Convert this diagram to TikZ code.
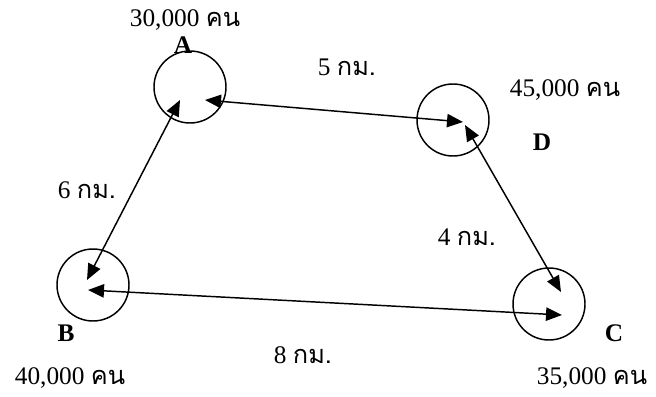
\documentclass[tikz,border=0pt]{standalone}
\usepackage{fontspec}
\setmainfont{Liberation Serif}
\newfontfamily\thaifont[Script=Thai]{Loma}
\usetikzlibrary{arrows.meta,calc}

\begin{document}
\begin{tikzpicture}[x=0.75pt,y=-0.75pt,
    city/.style={circle,draw,line width=1.1pt,minimum size=54pt,inner sep=0pt},
    road/.style={{Triangle[length=12pt,width=10pt]}-{Triangle[length=12pt,width=10pt]},line width=1.1pt},
    lab/.style={font=\fontsize{19}{21}\selectfont,inner sep=0pt},
    tag/.style={font=\fontsize{19}{21}\selectfont\bfseries,inner sep=0pt}]
    \useasboundingbox (0,0) rectangle (656,396);
    % the four towns
    \foreach \n/\x/\y in {A/190/87, D/453/120, B/93/285, C/549/304}{
      \node[city] (\n) at (\x,\y) {};
    }
    % arrow ends inside the circles
    \coordinate (AD) at ($(A)+(15,13)$);
    \coordinate (AB) at ($(A)+(-10,13)$);
    \coordinate (DA) at ($(D)+(10,2)$);
    \coordinate (DC) at ($(D)+(12,5)$);
    \coordinate (BA) at ($(B)+(-6,-5)$);
    \coordinate (BC) at ($(B)+(-5,5)$);
    \coordinate (CB) at ($(C)+(13,11)$);
    \coordinate (CD) at ($(C)+(12,-12)$);
    \draw[road] (AD) -- (DA);
    \draw[road] (AB) -- (BA);
    \draw[road] (BC) -- (CB);
    \draw[road] (DC) -- (CD);
    % letters
    \node[tag] (tA) at (183,45) {A};
    \node[tag] (tD) at (542,142) {D};
    \node[tag] (tB) at (66,333) {B};
    \node[tag] (tC) at (614,333) {C};
    % population
    \node[lab] (pA) at (185,20) {30,000 {\thaifont คน}};
    \node[lab] (pD) at (565,90) {45,000 {\thaifont คน}};
    \node[lab] (pB) at (70,378) {40,000 {\thaifont คน}};
    \node[lab] (pC) at (592,378) {35,000 {\thaifont คน}};
    % distances
    \node[lab] (dAD) at (347,67) {5 {\thaifont กม.}};
    \node[lab] (dAB) at (87,190) {6 {\thaifont กม.}};
    \node[lab] (dDC) at (467,237) {4 {\thaifont กม.}};
    \node[lab] (dBC) at (303,355) {8 {\thaifont กม.}};
\end{tikzpicture}
\end{document}
